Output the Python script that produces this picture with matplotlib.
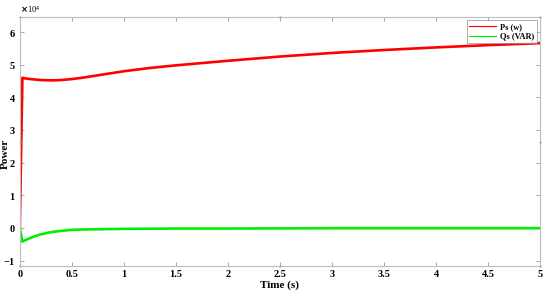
import matplotlib
matplotlib.use('Agg')
import matplotlib.pyplot as plt
from matplotlib.ticker import ScalarFormatter

# time (s) and power values
t_ps = [0, 0.025, 0.05, 0.1, 0.2, 0.3, 0.4, 0.5, 0.6, 0.8, 1.0, 1.25, 1.5,
        1.75, 2.0, 2.5, 3.0, 3.5, 4.0, 4.5, 5.0]
ps = [0, 4.6, 4.58, 4.56, 4.53, 4.52, 4.53, 4.56, 4.6, 4.7, 4.8, 4.9, 4.98,
      5.05, 5.12, 5.25, 5.36, 5.45, 5.53, 5.6, 5.66]
t_qs = [0, 0.025, 0.05, 0.1, 0.15, 0.2, 0.3, 0.4, 0.5, 0.6, 0.8, 1.0, 1.5,
        2.0, 3.0, 4.0, 5.0]
qs = [0, -0.42, -0.38, -0.31, -0.25, -0.2, -0.13, -0.09, -0.06, -0.05, -0.04,
      -0.03, -0.02, -0.02, -0.01, -0.01, -0.01]
scale = 1e4
xticks = [0, 0.5, 1, 1.5, 2, 2.5, 3, 3.5, 4, 4.5, 5]
xticklabels = ['0', '0.5', '1', '1.5', '2', '2.5', '3', '3.5', '4', '4.5', '5']
yticks = [-1, 0, 1, 2, 3, 4, 5, 6]

plt.rcParams['font.family'] = ['Liberation Serif', 'DejaVu Serif']
plt.rcParams['font.weight'] = 'bold'
text_size = 7.5

fig = plt.figure(figsize=(5.5, 2.94), dpi=100)
ax = fig.add_axes([0.036, 0.095, 0.946, 0.847])

ax.plot(t_ps, [v * scale for v in ps], color='red', linewidth=1.9, label='Ps (w)')
ax.plot(t_qs, [v * scale for v in qs], color='#00ee00', linewidth=1.9, label='Qs (VAR)')

ax.set_xlim(0, 5)
ax.set_ylim(-1.17 * scale, 6.46 * scale)
ax.set_xticks(xticks)
ax.set_xticklabels(xticklabels)
ax.set_yticks([v * scale for v in yticks])

fmt = ScalarFormatter(useMathText=True)
fmt.set_powerlimits((0, 0))
ax.yaxis.set_major_formatter(fmt)
ax.yaxis.get_offset_text().set_fontsize(6)
ax.yaxis.get_offset_text().set_fontweight('normal')

for sp in ax.spines.values():
  sp.set_color('#bdbdbd')
  sp.set_linewidth(0.8)
ax.tick_params(direction='in', top=True, right=True, length=3, width=0.6,
               color='#999999', labelsize=text_size, pad=3)
for lab in ax.get_xticklabels() + ax.get_yticklabels():
  lab.set_fontweight('bold')

ax.set_xlabel('Time (s)', fontsize=text_size + 0.5, fontweight='bold', labelpad=1)
ax.set_ylabel('Power', fontsize=text_size + 0.5, fontweight='bold')
ax.yaxis.set_label_coords(-0.019, 0.45)

leg = ax.legend(loc='upper right', fontsize=6, frameon=True, fancybox=False,
                handlelength=3.2, handletextpad=0.5, borderpad=0.3,
                labelspacing=0.2, borderaxespad=0.4)
leg.get_frame().set_edgecolor('#888888')
leg.get_frame().set_linewidth(0.6)
for line in leg.get_lines():
  line.set_linewidth(0.8)

# selection handles left on the axes box
hx = [0, 0.5, 1, 0, 1, 0, 0.5, 1]
hy = [1, 1, 1, 0.5, 0.5, 0, 0, 0]
ax.scatter(hx, hy, s=3, color='#8ab8e6', linewidths=0, transform=ax.transAxes,
           clip_on=False, zorder=5)

fig.savefig('out.png', dpi=100)
